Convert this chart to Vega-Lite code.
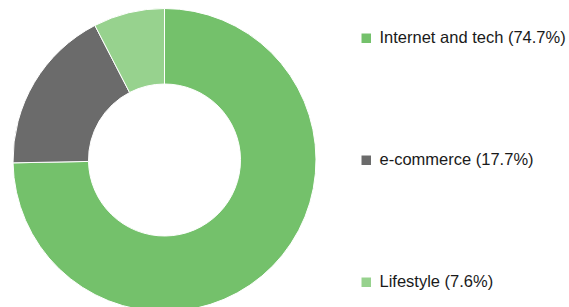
{
  "$schema": "https://vega.github.io/schema/vega-lite/v6.json",
  "width": 329,
  "height": 307,
  "padding": 0,
  "background": "white",
  "view": {"stroke": null},
  "data": {
    "values": [
      {"label": "Internet and tech (74.7%)", "share": 74.7, "rank": 1},
      {"label": "e-commerce (17.7%)", "share": 17.7, "rank": 2},
      {"label": "Lifestyle (7.6%)", "share": 7.6, "rank": 3}
    ]
  },
  "mark": {"type": "arc", "outerRadius": 151.5, "innerRadius": 76, "stroke": "#ffffff", "strokeWidth": 1, "yOffset": 6.5},
  "encoding": {
    "theta": {"field": "share", "type": "quantitative", "stack": true},
    "order": {"field": "rank", "type": "quantitative"},
    "color": {
      "field": "label",
      "type": "nominal",
      "sort": null,
      "scale": {
        "domain": ["Internet and tech (74.7%)", "e-commerce (17.7%)", "Lifestyle (7.6%)"],
        "range": ["#74c16b", "#6b6b6b", "#97d28e"]
      },
      "legend": {
        "title": null,
        "orient": "right",
        "offset": -1,
        "padding": 30,
        "symbolType": "square",
        "symbolSize": 90,
        "symbolStrokeWidth": 0,
        "labelFont": "Liberation Sans",
        "labelFontSize": 16.5,
        "labelColor": "#1a1a1a",
        "labelOffset": 5,
        "labelLimit": 300,
        "rowPadding": 105
      }
    }
  }
}
